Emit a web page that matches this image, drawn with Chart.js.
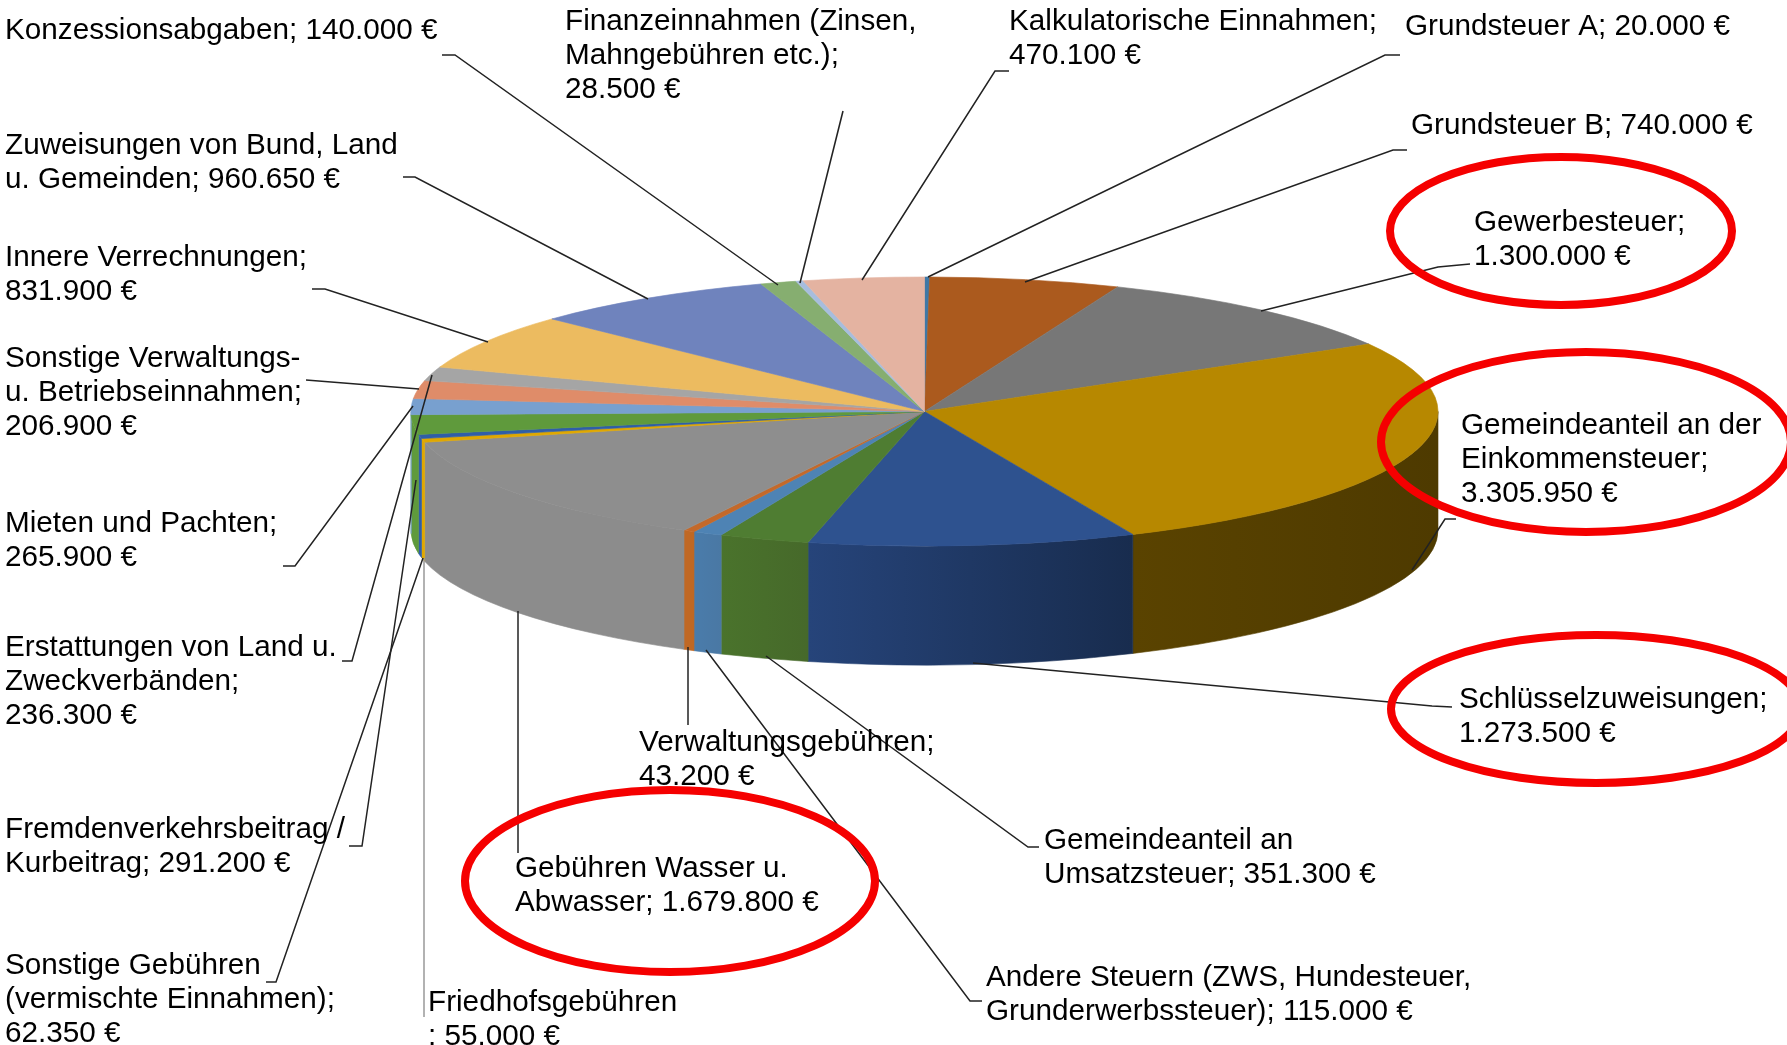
<!DOCTYPE html>
<html>
<head>
<meta charset="utf-8">
<title>Einnahmen</title>
<script src="https://cdn.jsdelivr.net/npm/chart.js@4"></script>
<style>
	html, body { margin: 0; padding: 0; background: #fff; overflow: hidden; }
	canvas { display: block; filter: blur(0.5px); }
</style>
</head>
<body>
<canvas id="pieChart" width="1787" height="1045"></canvas>
<script>
//Data, clockwise from the top of the pie
var categories = ['Grundsteuer A', 'Grundsteuer B', 'Gewerbesteuer', 'Gemeindeanteil an der Einkommensteuer', 'Schlüsselzuweisungen', 'Gemeindeanteil an Umsatzsteuer', 'Andere Steuern', 'Verwaltungsgebühren', 'Gebühren Wasser u. Abwasser', 'Friedhofsgebühren', 'Sonstige Gebühren', 'Fremdenverkehrsbeitrag / Kurbeitrag', 'Erstattungen von Land u. Zweckverbänden', 'Mieten und Pachten', 'Sonstige Verwaltungs- u. Betriebseinnahmen', 'Innere Verrechnungen', 'Zuweisungen von Bund, Land u. Gemeinden', 'Konzessionsabgaben', 'Finanzeinnahmen', 'Kalkulatorische Einnahmen'];
var values = [20000, 740000, 1300000, 3305950, 1273500, 351300, 115000, 43200, 1679800, 55000, 62350, 291200, 236300, 265900, 206900, 831900, 960650, 140000, 28500, 470100];

var labelLines = [
	['Grundsteuer A; 20.000 €'],
	['Grundsteuer B; 740.000 €'],
	['Gewerbesteuer;', '1.300.000 €'],
	['Gemeindeanteil an der', 'Einkommensteuer;', '3.305.950 €'],
	['Schlüsselzuweisungen;', '1.273.500 €'],
	['Gemeindeanteil an', 'Umsatzsteuer; 351.300 €'],
	['Andere Steuern (ZWS, Hundesteuer,', 'Grunderwerbssteuer); 115.000 €'],
	['Verwaltungsgebühren;', '43.200 €'],
	['Gebühren Wasser u.', 'Abwasser; 1.679.800 €'],
	['Friedhofsgebühren', ': 55.000 €'],
	['Sonstige Gebühren', '(vermischte Einnahmen);', '62.350 €'],
	['Fremdenverkehrsbeitrag /', 'Kurbeitrag; 291.200 €'],
	['Erstattungen von Land u.', 'Zweckverbänden;', '236.300 €'],
	['Mieten und Pachten;', '265.900 €'],
	['Sonstige Verwaltungs-', 'u. Betriebseinnahmen;', '206.900 €'],
	['Innere Verrechnungen;', '831.900 €'],
	['Zuweisungen von Bund, Land', 'u. Gemeinden; 960.650 €'],
	['Konzessionsabgaben; 140.000 €'],
	['Finanzeinnahmen (Zinsen,', 'Mahngebühren etc.);', '28.500 €'],
	['Kalkulatorische Einnahmen;', '470.100 €']
];

//Styles
var topColors = ['#3f78a6', '#ab5a1e', '#777777', '#b78800', '#2e528f', '#4f7d32', '#4e83b4', '#c4692a', '#8e8e8e', '#e0a800', '#2f5ea8', '#5f9a3c', '#78a0cf', '#df8c69', '#a5a5a5', '#ecbb60', '#6f83bd', '#86ae70', '#a7bddd', '#e4b3a1'];
var wallLeft = ['#2c5575', '#6a3812', '#4a4a4a', '#5a4300', '#26447a', '#4a732c', '#4a7cab', '#c06824', '#8c8c8c', '#e0a800', '#2f5ea8', '#5f9a3c', '#78a0cf', '#df8c69', '#a5a5a5', '#ecbb60', '#6f83bd', '#86ae70', '#a7bddd', '#e4b3a1'];
var wallRight = ['#2c5575', '#6a3812', '#4a4a4a', '#4e3a00', '#182c4e', '#46692a', '#4a78a4', '#c06824', '#8c8c8c', '#e0a800', '#2f5ea8', '#5f9a3c', '#78a0cf', '#df8c69', '#a5a5a5', '#ecbb60', '#6f83bd', '#86ae70', '#a7bddd', '#e4b3a1'];

//Pie geometry on the page
var pieX = 924.5, pieY = 411.5, pieRx = 513.5, pieRy = 134.5, pieDepth = 119;

//Where each label sits [x, first baseline], same order as categories
var labelPos = [
	[1405, 35], [1411, 134], [1474, 231], [1461, 434], [1459, 708], [1044, 849], [986, 986], [639, 751], [515, 877], [428, 1011],
	[5, 974], [5, 838], [5, 656], [5, 532], [5, 367], [5, 266], [5, 154], [5, 39], [565, 30], [1009, 30]
];
//Leader lines, same order as categories
var leaders = [
	[[1400, 55], [1385, 55], [928, 277]],
	[[1407, 150], [1393, 150], [1025, 282]],
	[[1470, 264], [1438, 267], [1261, 311]],
	[[1456, 519], [1445, 519], [1412, 570]],
	[[1452, 707], [1432, 706], [973, 663]],
	[[1039, 847], [1028, 847], [766, 656]],
	[[982, 1001], [970, 1001], [706, 650]],
	[[688, 725], [688, 647]],
	[[518, 853], [518, 611]],
	[[424, 1017], [424, 558]],
	[[266, 982], [276, 982], [423, 558]],
	[[349, 846], [362, 846], [416, 480]],
	[[342, 661], [352, 661], [432, 375]],
	[[283, 566], [295, 566], [413, 406]],
	[[306, 380], [419, 389]],
	[[312, 289], [325, 289], [488, 342]],
	[[403, 177], [415, 177], [648, 299]],
	[[442, 55], [455, 55], [778, 285]],
	[[843, 111], [800, 283]],
	[[1009, 71], [995, 71], [862, 280]]
];
//Red hand drawn rings [x, y, rx, ry]
var rings = [[1561, 231, 171, 74], [1586, 442, 205, 90], [1596, 709, 205, 74], [670, 881, 205, 91]];

var pie3d = {
	id: 'pie3d',
	beforeDatasetsDraw: function (chart) {
		var ctx = chart.ctx;
		var arcs = chart.getDatasetMeta(0).data;

		//outer wall, only the part of each slice that faces the front
		arcs.forEach(function (arc, i) {
			var a0 = Math.max(arc.startAngle, 0);
			var a1 = Math.min(arc.endAngle, Math.PI);
			if (a1 <= a0) return;
			var x0 = pieX + pieRx * Math.cos(a1);
			var x1 = pieX + pieRx * Math.cos(a0);
			var grad = ctx.createLinearGradient(x0, 0, x1, 0);
			grad.addColorStop(0, wallLeft[i]);
			grad.addColorStop(1, wallRight[i]);
			ctx.beginPath();
			ctx.ellipse(pieX, pieY, pieRx, pieRy, 0, a0, a1);
			ctx.ellipse(pieX, pieY + pieDepth, pieRx, pieRy, 0, a1, a0, true);
			ctx.closePath();
			ctx.fillStyle = grad;
			ctx.fill();
			//same colour edge so no white hairline stays between two walls
			ctx.strokeStyle = grad;
			ctx.lineWidth = 0.6;
			ctx.stroke();
		});

		//squash the library's round pie into the top face
		ctx.save();
		ctx.translate(pieX, pieY);
		ctx.scale(1, pieRy / pieRx);
		ctx.translate(-arcs[0].x, -arcs[0].y);
	},
	afterDatasetsDraw: function (chart) {
		var ctx = chart.ctx;
		ctx.restore();

		ctx.lineWidth = 1.5;
		leaders.forEach(function (pts, i) {
			ctx.strokeStyle = i == 9 ? '#999' : '#222';
			ctx.beginPath();
			pts.forEach(function (p, k) {
				if (k == 0) ctx.moveTo(p[0], p[1]);
				else ctx.lineTo(p[0], p[1]);
			});
			ctx.stroke();
		});

		ctx.fillStyle = '#000';
		ctx.font = '29.7px "Liberation Sans"';
		ctx.textAlign = 'left';
		ctx.textBaseline = 'alphabetic';
		labelLines.forEach(function (lines, i) {
			lines.forEach(function (line, k) {
				ctx.fillText(line, labelPos[i][0], labelPos[i][1] + k * 34.2);
			});
		});

		ctx.strokeStyle = '#f50000';
		ctx.lineWidth = 8;
		rings.forEach(function (r) {
			ctx.beginPath();
			ctx.ellipse(r[0], r[1], r[2], r[3], 0, 0, Math.PI * 2);
			ctx.stroke();
		});
	}
};

new Chart(document.getElementById('pieChart'), {
	type: 'pie',
	data: {
		labels: categories,
		datasets: [
		{
			data: values,
			backgroundColor: topColors,
			borderColor: topColors,
			borderWidth: 1,
			clip: false
		}
		]
	},
	options: {
		responsive: false,
		animation: false,
		radius: pieRx,
		layout: { padding: 0 },
		plugins: {
			legend: { display: false },
			title: { display: false },
			tooltip: { enabled: false }
		}
	},
	plugins: [pie3d]
});
</script>
</body>
</html>
